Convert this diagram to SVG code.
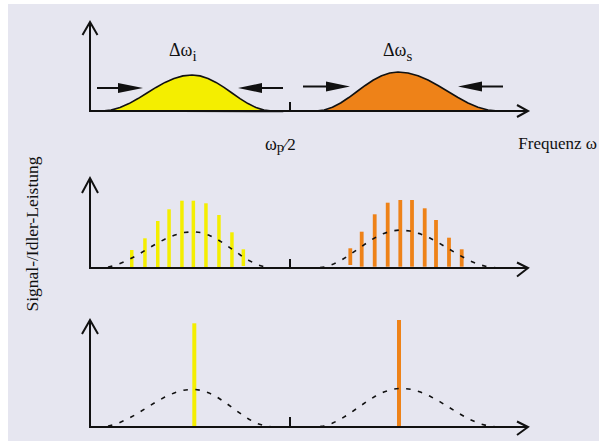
<svg xmlns="http://www.w3.org/2000/svg" width="599" height="441" viewBox="0 0 599 441">
<defs>
<style>
.bg{fill:#e6e6f0}
.ax{fill:none;stroke:#111;stroke-width:2;stroke-linecap:butt;stroke-linejoin:miter}
.curve{stroke:#111;stroke-width:1.6;stroke-linejoin:round}
.dash{fill:none;stroke:#111;stroke-width:1.6;stroke-dasharray:4.5 7.5}
.y{fill:#f4ee00}
.o{fill:#ee8218}
.ar{fill:none;stroke:#111;stroke-width:2}
.hd{fill:#111}
text{font-family:"Liberation Serif","Times New Roman",serif;fill:#111}
.big{font-size:18px}
.sub{font-size:15px}
</style>
</defs>
<rect x="0" y="0" width="599" height="441" fill="#ffffff"/>
<rect class="bg" x="8" y="4" width="591" height="437"/>

<g id="panel1-curves">
<path id="idler-spectrum" class="curve y" d="M 100,111 L 102,111 L 111,110.12 L 120,107.56 L 129,103.58 L 138,98.56 L 147,93 L 156,87.44 L 165,82.42 L 174,78.44 L 183,75.88 L 192,75 L 200,75.88 L 208,78.44 L 216,82.42 L 224,87.44 L 232,93 L 240,98.56 L 248,103.58 L 256,107.56 L 264,110.12 L 272,111 L 283,111.5 Z"/>
<path id="signal-spectrum" class="curve o" d="M 308,111 L 316,111 L 324.2,110.04 L 332.4,107.28 L 340.6,102.96 L 348.8,97.53 L 357,91.5 L 365.2,85.47 L 373.4,80.04 L 381.6,75.72 L 389.8,72.96 L 398,72 L 408,72.96 L 418,75.72 L 428,80.04 L 438,85.47 L 448,91.5 L 458,97.53 L 468,102.96 L 478,107.28 L 488,110.04 L 498,111 L 503,111 Z"/>
</g>

<g id="panel2-bars">
<rect class="y" x="130" y="250" width="3.5" height="18"/>
<rect class="y" x="143.2" y="238.3" width="3.5" height="29.7"/>
<rect class="y" x="156" y="221" width="3.5" height="48"/>
<rect class="y" x="167.3" y="209.3" width="3.5" height="58.7"/>
<rect class="y" x="180.2" y="200.7" width="3.5" height="67.3"/>
<rect class="y" x="191.6" y="200.7" width="3.5" height="67.3"/>
<rect class="y" x="204.2" y="203.3" width="3.5" height="64.7"/>
<rect class="y" x="217.2" y="215" width="3.5" height="53"/>
<rect class="y" x="230.2" y="232.3" width="3.5" height="35.7"/>
<rect class="y" x="241.6" y="249.3" width="3.5" height="16.7"/>
<rect class="o" x="348.4" y="248.3" width="3.8" height="16.7"/>
<rect class="o" x="359.8" y="231.7" width="3.8" height="35"/>
<rect class="o" x="372.8" y="214.3" width="3.8" height="52.4"/>
<rect class="o" x="385.8" y="202.7" width="3.8" height="64"/>
<rect class="o" x="398.4" y="200" width="3.8" height="66.7"/>
<rect class="o" x="410.1" y="200" width="3.8" height="66.7"/>
<rect class="o" x="422.8" y="208.3" width="3.8" height="58.4"/>
<rect class="o" x="434.1" y="220" width="3.8" height="48"/>
<rect class="o" x="447.1" y="237.7" width="3.8" height="29"/>
<rect class="o" x="459.8" y="249.3" width="3.8" height="17.4"/>
</g>

<g id="panel3-bars">
<rect class="y" x="192.3" y="323.3" width="4" height="102.7"/>
<rect class="o" x="397" y="320" width="4" height="107"/>
</g>

<g id="envelopes">
<path class="dash" d="M 96,268 L 99,268 L 108.4,267.11 L 117.8,264.53 L 127.2,260.52 L 136.6,255.46 L 146,249.85 L 155.4,244.24 L 164.8,239.18 L 174.2,235.17 L 183.6,232.59 L 193,231.7 L 201,232.59 L 209,235.17 L 217,239.18 L 225,244.24 L 233,249.85 L 241,255.46 L 249,260.52 L 257,264.53 L 265,267.11 L 273,268 L 278,268"/>
<path class="dash" d="M 308,268 L 316,268 L 324.4,267.07 L 332.8,264.37 L 341.2,260.17 L 349.6,254.87 L 358,249 L 366.4,243.13 L 374.8,237.83 L 383.2,233.63 L 391.6,230.93 L 400,230 L 409.8,230.93 L 419.6,233.63 L 429.4,237.83 L 439.2,243.13 L 449,249 L 458.8,254.87 L 468.6,260.17 L 478.4,264.37 L 488.2,267.07 L 498,268"/>
<path class="dash" d="M 96,427 L 99,427 L 108.4,426.08 L 117.8,423.4 L 127.2,419.23 L 136.6,413.97 L 146,408.15 L 155.4,402.33 L 164.8,397.07 L 174.2,392.9 L 183.6,390.22 L 193,389.3 L 201,390.22 L 209,392.9 L 217,397.07 L 225,402.33 L 233,408.15 L 241,413.97 L 249,419.23 L 257,423.4 L 265,426.08 L 273,427 L 278,427"/>
<path class="dash" d="M 308,427 L 315,427 L 323.6,426.05 L 332.2,423.3 L 340.8,419.02 L 349.4,413.63 L 358,407.65 L 366.6,401.67 L 375.2,396.28 L 383.8,392 L 392.4,389.25 L 401,388.3 L 410.7,389.25 L 420.4,392 L 430.1,396.28 L 439.8,401.67 L 449.5,407.65 L 459.2,413.63 L 468.9,419.02 L 478.6,423.3 L 488.3,426.05 L 498,427"/>
</g>

<g id="axes">
<path class="ax" d="M 90,111 L 90,23 M 82.5,35 L 90,22 L 97.5,35 M 89,111 L 527,111 M 517,105 L 528,111 L 517,117 M 290,102 L 290,111"/>
<path class="ax" d="M 90,268 L 90,179 M 82,193 L 90,178 L 98,193 M 89,268 L 527,268 M 517,262.5 L 528,268 L 517,276.5 M 290,259 L 290,268"/>
<path class="ax" d="M 90,427 L 90,321 M 82,334 L 90,320 L 98,334 M 89,427 L 527,427 M 517,421.5 L 528,427 L 517,435 M 290,417 L 290,427"/>
</g>

<g id="connectors">
<path class="ar" d="M 97,88 L 120,88"/>
<polygon class="hd" points="118,83 143,88 118,93"/>
<path class="ar" d="M 260,88 L 283,88"/>
<polygon class="hd" points="262,83 238,88 262,93"/>
<path class="ar" d="M 303,86.5 L 328,86.5"/>
<polygon class="hd" points="326,81.5 350,86.5 326,91.5"/>
<path class="ar" d="M 480,86.5 L 503,86.5"/>
<polygon class="hd" points="482,81.5 458,86.5 482,91.5"/>
</g>

<g id="labels">
<text class="big" x="169" y="56">Δω<tspan class="sub" dy="4.5">i</tspan></text>
<text class="big" x="383" y="56">Δω<tspan class="sub" dy="5">s</tspan></text>
<text x="265" y="150" font-size="18">ω<tspan font-size="15" dy="1.5">p</tspan><tspan font-size="17" dy="-1.5">⁄2</tspan></text>
<text x="597" y="149" font-size="17" text-anchor="end">Frequenz ω</text>
<text x="0" y="0" font-size="16" transform="translate(38,234) rotate(-90)" text-anchor="middle" textLength="155" lengthAdjust="spacingAndGlyphs">Signal-/Idler-Leistung</text>
</g>
</svg>
